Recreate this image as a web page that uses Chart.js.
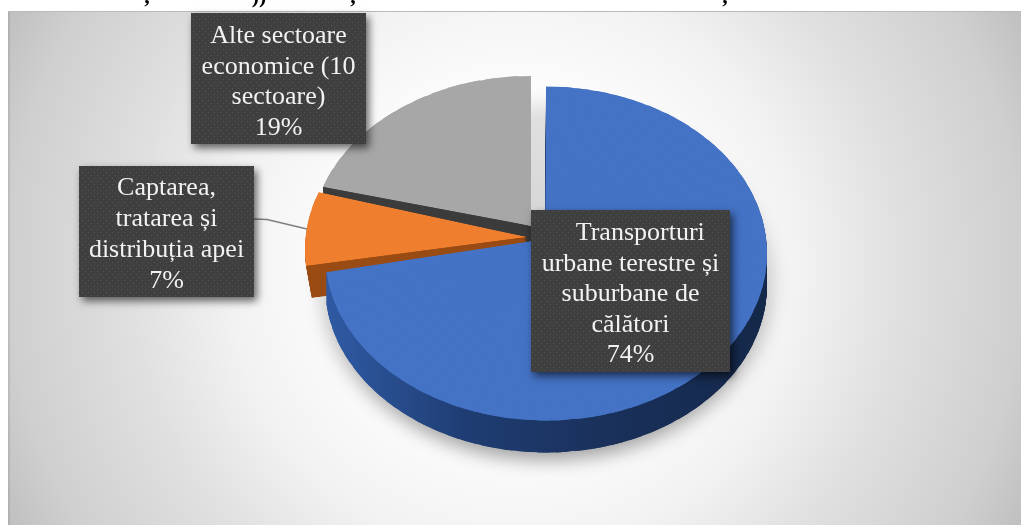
<!DOCTYPE html>
<html>
<head>
<meta charset="utf-8">
<style>html,body{margin:0;padding:0;background:#fff}canvas{display:block}</style>
<script src="https://cdn.jsdelivr.net/npm/chart.js@4"></script>
</head>
<body>
<div style="width:1021px;height:525px"><canvas id="c" width="1021" height="525"></canvas></div>
<script>
const categories = ["Transporturi urbane terestre și suburbane de călători", "Captarea, tratarea și distribuția apei", "Alte sectoare economice (10 sectoare)"];
const values = [74, 7, 19];
const percentLabels = ["74%", "7%", "19%"];
const blueLines = ["\u00a0\u00a0\u00a0Transporturi", "urbane terestre și", "suburbane de", "călători"];
const orangeLines = ["Captarea,", "tratarea și", "distribuția apei"];
const greyLines = ["Alte sectoare", "economice (10", "sectoare)"];
const topFragments = [[",", 147], ["))", 259], [",", 353], [",", 725]];

const topColors = ["#4472c4", "#ef7f2e", "#a7a7a7"];

/* perspective projection of each exploded slice:
   apex, centre of its outline ellipse, and the outline parameter range (degrees clockwise from top) */
const RX = 221, RY = 167, DEPTH = 32, STEP = 5;
const proj = [
  {apex:{x:545,y:239}, c:{x:546,y:253.5}, p0:0,     p1:263.6, dx:0},
  {apex:{x:527,y:237}, c:{x:526,y:250},   p0:264.5, p1:290.3, dx:0.18},
  {apex:{x:531,y:226}, c:{x:531,y:243},   p0:289.6, p1:360,   dx:0}
];

function drawSlice(ctx, el, p, off, fill) {
  const R = el.outerRadius, o = el.options;
  const t0 = el.startAngle, t1 = el.endAngle;
  const n = Math.max(2, Math.ceil((t1-t0)*180/Math.PI/STEP));
  const D2R = Math.PI/180;
  const ax = p.apex.x + off*p.dx, ay = p.apex.y + off;
  const out = (k)=>{ const f = (p.p0+(p.p1-p.p0)*k/n)*D2R;
    return {x:p.c.x+off*p.dx+RX*Math.sin(f)-ax, y:p.c.y+off-RY*Math.cos(f)-ay}; };
  el.options = new Proxy(o, {get:(t,k)=> k==='backgroundColor' ? fill : k==='offset'||k==='spacing'||k==='borderWidth' ? 0 : t[k]});
  for (let k=0;k<n;k++){
    const a1 = t0+(t1-t0)*k/n, a2 = t0+(t1-t0)*(k+1)/n;
    const e1 = {x:Math.cos(a1),y:Math.sin(a1)}, e2 = {x:Math.cos(a2),y:Math.sin(a2)};
    const P1 = out(k), P2 = out(k+1);
    const det = e1.x*e2.y-e2.x*e1.y;
    const a = (P1.x*e2.y-P2.x*e1.y)/det, c = (P2.x*e1.x-P1.x*e2.x)/det;
    const b = (P1.y*e2.y-P2.y*e1.y)/det, d = (P2.y*e1.x-P1.y*e2.x)/det;
    const A = a/R, B = b/R, C = c/R, Dd = d/R;
    ctx.save();
    ctx.transform(A,B,C,Dd, ax-A*el.x-C*el.y, ay-B*el.x-Dd*el.y);
    const g = 0.03, far = R*1.3, mid = (a1+a2)/2;
    const s1 = k ? a1-g : a1, s2 = k<n-1 ? a2+g : a2;
    // pull the wedge point behind the apex so neighbouring wedges overlap right up to it
    const back = (k && k<n-1) ? 3 : 0;
    ctx.beginPath();
    ctx.moveTo(el.x-back*Math.cos(mid),el.y-back*Math.sin(mid));
    ctx.lineTo(el.x+far*Math.cos(s1),el.y+far*Math.sin(s1));
    ctx.lineTo(el.x+far*Math.cos(s2),el.y+far*Math.sin(s2));
    ctx.closePath();
    ctx.clip();
    el.draw(ctx);
    ctx.restore();
  }
  el.options = o;
}

function dots(ctx) {
  const t = document.createElement('canvas'); t.width = 6; t.height = 6;
  const g = t.getContext('2d');
  g.fillStyle = '#3f3f3f'; g.fillRect(0,0,6,6);
  g.fillStyle = '#555555'; g.fillRect(1,1,1,1); g.fillRect(4,4,1,1);
  return ctx.createPattern(t,'repeat');
}

function labelBox(ctx, x, y, w, h, lines, lineGap, firstBase) {
  ctx.save();
  ctx.shadowColor = 'rgba(0,0,0,0.6)'; ctx.shadowBlur = 8; ctx.shadowOffsetX = 3; ctx.shadowOffsetY = 4;
  ctx.fillStyle = '#3f3f3f'; ctx.fillRect(x,y,w,h);
  ctx.restore();
  ctx.fillStyle = dots(ctx); ctx.fillRect(x,y,w,h);
  ctx.fillStyle = '#f2f2f2';
  ctx.font = '26px "Liberation Serif"';
  ctx.textAlign = 'center'; ctx.textBaseline = 'alphabetic';
  lines.forEach((s,i)=> ctx.fillText(s, x+w/2, firstBase+i*lineGap));
}

const scene = {
  id:'scene',
  beforeDraw(chart){
    const ctx = chart.ctx;
    ctx.save();
    ctx.fillStyle='#fff'; ctx.fillRect(0,0,1021,525);
    const g = ctx.createRadialGradient(515,268,150,515,268,570);
    g.addColorStop(0,'#ffffff');
    g.addColorStop(135/420,'#f2f2f2');
    g.addColorStop(235/420,'#e0e0e0');
    g.addColorStop(357/420,'#cfcfcf');
    g.addColorStop(1,'#bfbfbf');
    ctx.fillStyle=g; ctx.fillRect(8,12,1013,513);
    ctx.fillStyle='rgba(0,0,0,0.08)'; ctx.fillRect(8,12,2,513);
    ctx.fillStyle='#b9b9b9'; ctx.fillRect(8,11,1013,1);
    ctx.fillStyle='#000'; ctx.font='bold 22px "Liberation Serif"'; ctx.textAlign='center'; ctx.textBaseline='alphabetic';
    topFragments.forEach(f=>ctx.fillText(f[0],f[1],3));
    ctx.restore();
  },
  beforeDatasetsDraw(chart){
    const ctx = chart.ctx, els = chart.getDatasetMeta(0).data;
    const [blue, orange, grey] = els;
    const R = blue.outerRadius;
    const blueWall = ctx.createLinearGradient(blue.x-R,0,blue.x+R,0);
    blueWall.addColorStop(0,'#2f5aa3'); blueWall.addColorStop(0.3,'#1f3d73'); blueWall.addColorStop(0.6,'#1a315c'); blueWall.addColorStop(1,'#142849');
    ctx.save();
    ctx.filter='blur(9px)';
    const sg = ctx.createLinearGradient(0,110,0,460);
    sg.addColorStop(0,'rgba(0,0,0,0.12)'); sg.addColorStop(0.5,'rgba(0,0,0,0.18)'); sg.addColorStop(1,'rgba(0,0,0,0.38)');
    ctx.fillStyle=sg;
    ctx.beginPath(); ctx.ellipse(546,282,226,178,0,0,Math.PI*2); ctx.fill();
    ctx.restore();
    const wall = (el,p,c)=>{ for(let i=DEPTH;i>=1;i--) drawSlice(ctx,el,p,i,c); };
    wall(grey,proj[2],'#3c3c3c');
    drawSlice(ctx,grey,proj[2],0,topColors[2]);
    wall(orange,proj[1],'#994c14');
    wall(blue,proj[0],blueWall);
    drawSlice(ctx,blue,proj[0],0,topColors[0]);
    drawSlice(ctx,orange,proj[1],0,topColors[1]);
    return false;
  },
  afterDraw(chart){
    const ctx = chart.ctx;
    ctx.save();
    ctx.strokeStyle='#7f7f7f'; ctx.lineWidth=1.6;
    ctx.beginPath(); ctx.moveTo(254,219); ctx.lineTo(267,219.5); ctx.lineTo(307,229); ctx.stroke();
    labelBox(ctx,191,13,175,131,[...greyLines,percentLabels[2]],30.5,43);
    labelBox(ctx,79,166,175,131,[...orangeLines,percentLabels[1]],31,195);
    labelBox(ctx,531,210,199,162,[...blueLines,percentLabels[0]],30.5,240);
    ctx.restore();
  }
};

new Chart(document.getElementById('c'),{
  type:'pie',
  data:{labels:categories,datasets:[{data:values,backgroundColor:topColors,borderWidth:0}]},
  options:{responsive:false,animation:false,plugins:{legend:{display:false},tooltip:{enabled:false}},events:[]},
  plugins:[scene]
});
</script>
</body>
</html>
